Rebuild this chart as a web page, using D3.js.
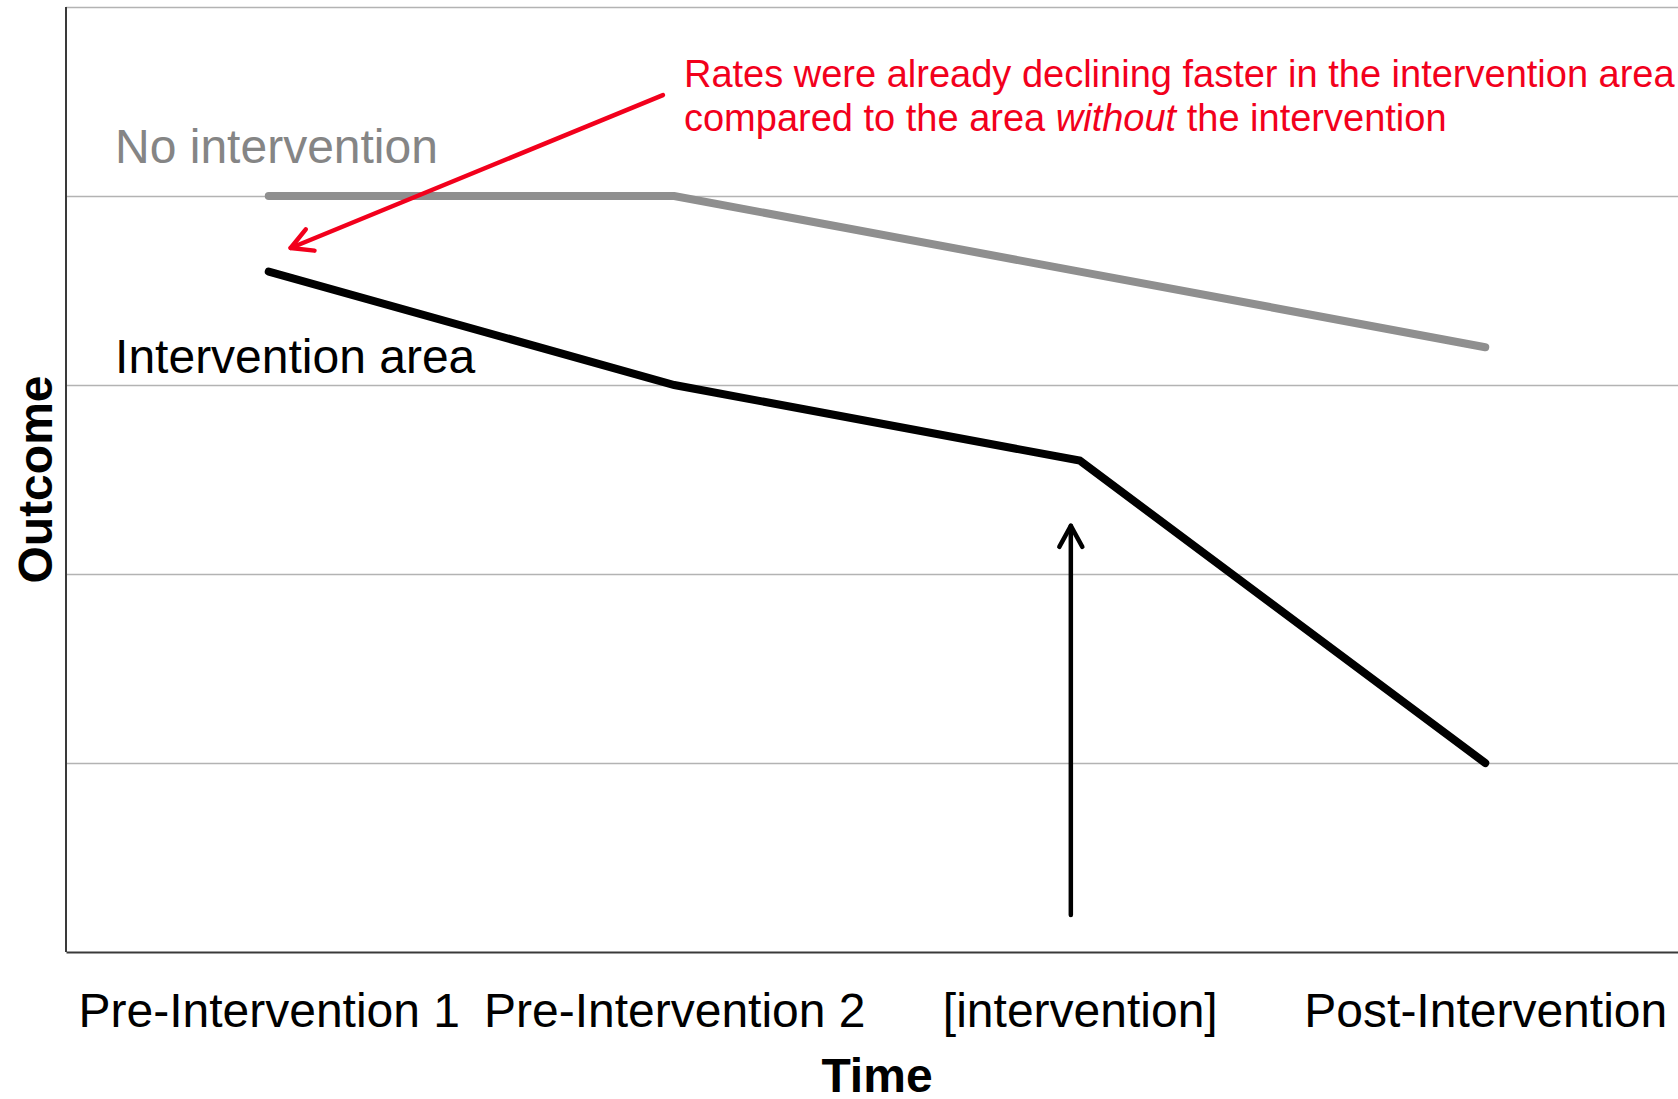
<html>
<head>
<title>Outcome over time</title>
<script src="https://d3js.org/d3.v7.min.js"></script>
<style>
body { margin: 0; background: white; font-family: "Liberation Sans", Arial, Helvetica, sans-serif; }
svg { display: block; }
.grid line { stroke: #b3b3b3; stroke-width: 1.5; }
.grid .domain { display: none; }
.xaxis .domain { stroke: #3a3a3a; stroke-width: 2; }
.xaxis text { font-family: "Liberation Sans", Arial, sans-serif; font-size: 48px; fill: #000; }
</style>
</head>
<body>
<div id="plot"></div>

<script>

var categories = ["Pre-Intervention 1", "Pre-Intervention 2", "[intervention]", "Post-Intervention"];
var noIntervention = [4.0, 4.0, 3.6, 3.2];
var interventionArea = [3.6, 3.0, 2.6, 1.0];
var gridTicks = [1, 2, 3, 4, 5];

var width = 1678;
var height = 1099;

// the frame runs off the right side of the picture
var plotLeft = 66, plotRight = 1688, plotTop = 7, plotBottom = 952;

var svg = d3.select("#plot").append("svg")
.attr("width", width).attr("height", height);

var xScale = d3.scalePoint().domain(categories).range([plotLeft, plotRight]).padding(0.5);
// same positions, but by index, for the annotations
var xIndex = d3.scaleLinear().domain([-0.5, 3.5]).range([plotLeft, plotRight]);
var yScale = d3.scaleLinear().domain([0, 5]).range([plotBottom, plotTop]);

/*** grid and frame ***/
svg.append("g").attr("class", "grid")
.attr("transform", "translate(" + plotLeft + ",0)")
.call(d3.axisLeft(yScale).tickValues(gridTicks).tickSize(-(plotRight - plotLeft)).tickFormat(""));

svg.append("line")
.attr("x1", plotLeft).attr("x2", plotLeft)
.attr("y1", yScale(0)).attr("y2", yScale(5))
.style("stroke", "#3a3a3a").style("stroke-width", 2);

svg.append("g").attr("class", "xaxis")
.attr("transform", "translate(0," + plotBottom + ")")
.call(d3.axisBottom(xScale).tickSize(0).tickPadding(41));

svg.append("text")
.attr("x", (plotLeft + plotRight) / 2).attr("y", 1092)
.attr("text-anchor", "middle")
.style("font-size", "48px").style("font-weight", "bold")
.text("Time");

svg.append("text")
.attr("transform", "translate(52," + (plotTop + plotBottom) / 2 + ") rotate(-90)")
.attr("text-anchor", "middle")
.style("font-size", "48px").style("font-weight", "bold")
.text("Outcome");

/*** the two series ***/
var line = d3.line()
.x(function (d, i) { return xScale(categories[i]); })
.y(function (d) { return yScale(d); });

svg.append("path").datum(noIntervention)
.attr("d", line)
.style("fill", "none").style("stroke", "#8f8f8f")
.style("stroke-width", 8).style("stroke-linecap", "round");

svg.append("path").datum(interventionArea)
.attr("d", line)
.style("fill", "none").style("stroke", "#000")
.style("stroke-width", 8).style("stroke-linecap", "round");

svg.append("text")
.attr("x", xIndex(-0.379)).attr("y", yScale(4.175))
.style("font-size", "48px").style("fill", "#858585")
.text("No intervention");

svg.append("text")
.attr("x", xIndex(-0.379)).attr("y", yScale(3.063))
.style("font-size", "48px").style("fill", "#000")
.text("Intervention area");

/*** annotations ***/
function arrow(x1, y1, x2, y2, color, w, head) {
  var g = svg.append("g").style("stroke", color).style("stroke-width", w)
  .style("fill", "none").style("stroke-linecap", "round").style("stroke-linejoin", "round");
  g.append("line").attr("x1", x1).attr("y1", y1).attr("x2", x2).attr("y2", y2);
  var a = Math.atan2(y1 - y2, x1 - x2);
  var spread = 0.5;
  var p = [
    [x2 + head * Math.cos(a + spread), y2 + head * Math.sin(a + spread)],
    [x2, y2],
    [x2 + head * Math.cos(a - spread), y2 + head * Math.sin(a - spread)]
  ];
  g.append("path").attr("d", d3.line()(p));
}

var red = "#f2001c";

// red arrow: from the note towards the start of the intervention line
arrow(xIndex(0.972), yScale(4.534), xIndex(0.054), yScale(3.725), red, 4.5, 24);

// black arrow: marks the moment of the intervention
arrow(xIndex(1.978), yScale(0.196), xIndex(1.978), yScale(2.255), "#000", 4.5, 24);

var note = svg.append("text")
.attr("x", xIndex(1.024)).attr("y", yScale(4.577))
.style("font-size", "38px").style("fill", red);
note.append("tspan").text("Rates were already declining faster in the intervention area");

var note2 = svg.append("text")
.attr("x", xIndex(1.024)).attr("y", yScale(4.345))
.style("font-size", "38px").style("fill", red);
note2.append("tspan").text("compared to the area ");
note2.append("tspan").style("font-style", "italic").text("without");
note2.append("tspan").text(" the intervention");

</script>
</body>
</html>
